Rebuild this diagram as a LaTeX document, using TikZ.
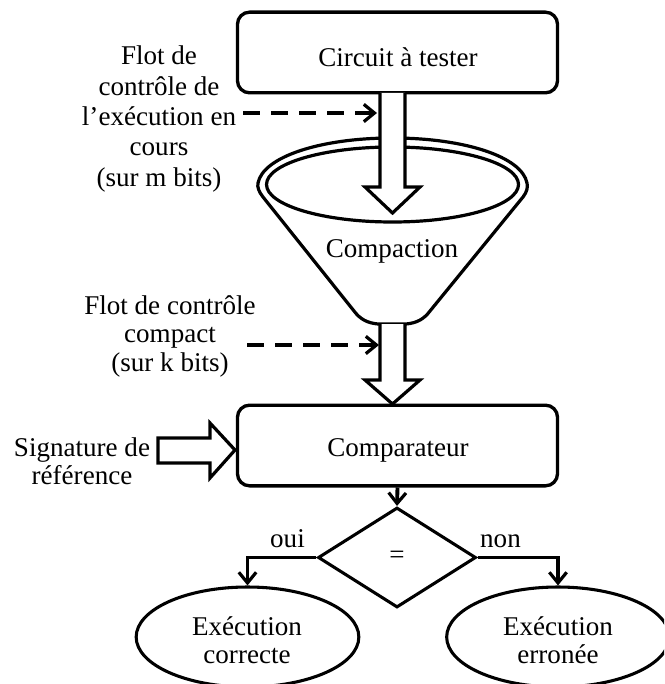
\documentclass[tikz,border=0pt]{standalone}
\usepackage{fontspec}
\setmainfont{Liberation Serif}
\usetikzlibrary{arrows.meta,shapes.geometric}
\tikzset{
  x=0.75pt,y=-0.75pt,
  line/.style={line width=2.4pt,black,line join=round},
  boxnode/.style={draw,line width=2.5pt,rounded corners=9pt,minimum width=240pt,inner sep=0pt},
  ovalnode/.style={draw,ellipse,line width=2.3pt,minimum width=167pt,minimum height=75pt,inner sep=0pt},
  decision/.style={draw,diamond,line width=2.3pt,minimum width=118.5pt,minimum height=75pt,inner sep=0pt,aspect=1.58},
  label/.style={align=center,inner sep=0pt},
  flow/.style={line width=2.9pt,black,line join=miter,-{Straight Barb[length=8pt,width=13pt,line width=2.4pt]}},
  dashflow/.style={flow,line width=2.6pt,dash pattern=on 13pt off 8pt},
  block/.style={line width=2.4pt,fill=white,line join=miter},
}
\newcommand{\txt}{\fontsize{20.3}{22}\selectfont}
\begin{document}
\begin{tikzpicture}
\useasboundingbox (0,0) rectangle (664,684);
\clip (0,0) rectangle (664,684);
\begin{scope}[every node/.append style={font=\txt}]
% funnel
\draw[line,fill=white]
  (263,197) -- (354,311) .. controls (360,319) and (367,323) .. (378,324)
  -- (406,324) .. controls (417,323) and (424,319) .. (430,311)
  -- (523,197) .. controls (527,192) and (528,187) .. (527,183)
  .. controls (522,157) and (465,138) .. (392.5,138)
  .. controls (320,138) and (263,157) .. (258,183)
  .. controls (257,187) and (259,192) .. (263,197) -- cycle;
\draw[line] (392.5,184.5) ellipse [x radius=126,y radius=37.5];
\node[boxnode,minimum height=60.5pt] (circuit) at (397.5,52.5) {};
\node[boxnode,minimum height=60.5pt] (comp) at (397.5,445.5) {};
\node[label] (circuitlabel) at (398,57) {Circuit à tester};
\node[label] (complabel) at (398,450) {Comparateur};
\node[label] (compaction) at (392,251) {Compaction};
% block arrows
\draw[block] (380,93) -- (380,187) -- (365,187) -- (392.5,213) -- (420,187) -- (405,187) -- (405,93);
\draw[block] (380,324) -- (380,380) -- (365,380) -- (392.5,404) -- (420,380) -- (405,380) -- (405,324);
\draw[block] (158,438) -- (210,438) -- (210,423) -- (235,450) -- (210,478) -- (210,463) -- (158,463) -- cycle;
% decision + ends
\node[decision] (eq) at (397,557.5) {=};
\node[ovalnode] (ok) at (247.5,637) {};
\node[ovalnode] (err) at (558,637) {};
\node[label] (oklabel) at (247,640) {Exécution\\[-1pt]correcte};
\node[label] (errlabel) at (558,640) {Exécution\\[-1pt]erronée};
\draw[flow] (comp.south) -- (eq.north);
\draw[flow] (eq.west) -| (ok.north);
\draw[flow] (eq.east) -| (err.north);
\node[label,anchor=base] (oui) at (287.5,547) {oui};
\node[label,anchor=base] (non) at (500.5,547) {non};
% side labels
\node[label] (flot1) at (159,119) {Flot de\\[0.7pt]contrôle de\\[0.7pt]l’exécution en\\[0.7pt]cours\\[0.7pt](sur m bits)};
\node[label] (flot2) at (170,336) {Flot de contrôle\\[-0.6pt]compact\\[-0.6pt](sur k bits)};
\node[label] (sig) at (82,461) {Signature de\\[-1pt]référence};
\coordinate (d1a) at (243,113);
\coordinate (d1b) at (377,113);
\coordinate (d2a) at (247,345);
\coordinate (d2b) at (379,345);
\draw[dashflow] (d1a) -- (d1b);
\draw[dashflow] (d2a) -- (d2b);
\end{scope}
\end{tikzpicture}
\end{document}
